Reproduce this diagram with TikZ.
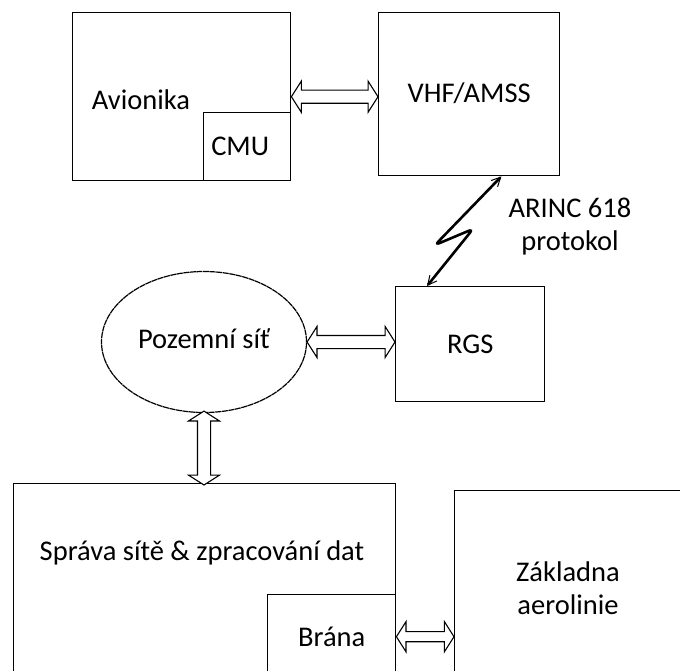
\documentclass[tikz,border=0pt]{standalone}
\usepackage{fontspec}
\setmainfont{Carlito}
\usetikzlibrary{calc, positioning, arrows.meta, shapes.geometric, shapes.arrows}

\begin{document}
\begin{tikzpicture}[
		x=1pt, y=-1pt,
		box/.style={rectangle, draw=black, line width=1.4pt, anchor=north west, inner sep=0pt},
		txt/.style={font=\fontsize{28.5}{33}\selectfont, align=center, inner sep=0pt},
		dblarrow/.style={double arrow, draw=black, fill=white, line width=1.1pt, inner sep=6pt, minimum width=13pt, double arrow head extend=9pt, double arrow tip angle=115},
		bolt/.style={line width=2.6pt, rounded corners=5pt, {Straight Barb[length=9pt, width=9pt, line width=1pt]}-{Straight Barb[length=9pt, width=9pt, line width=1pt]}}
		]
		
		\useasboundingbox (0,0) rectangle (680,670);
		\clip (0,0) rectangle (680,670);
		
		% --- LETADLO ---
		\node[box, minimum width=218pt, minimum height=168pt] (avio) at (72,12) {};
		\node[txt] (aviotext) at (141,100) {Avionika};
		\node[box, minimum width=87pt, minimum height=68pt, txt, anchor=north west] (cmu) at (203,112) {\hspace*{-14pt}CMU};
		\node[box, minimum width=181pt, minimum height=163pt, txt, anchor=north west] (vhf) at (378,12) {\raisebox{3pt}{VHF/AMSS}};
		
		% --- POZEMNI CAST ---
		\node[box, minimum width=149pt, minimum height=115pt, txt, anchor=north west] (rgs) at (395,286) {RGS};
		\node[ellipse, draw=black, line width=1.2pt, dashed, dash pattern=on 6pt off 0.6pt, minimum width=205pt, minimum height=141pt, txt] (sit) at (204,342) {\raisebox{7pt}{Pozemní síť}};
		\node[txt] (arinc) at (570,227) {ARINC 618\\protokol};
		
		% --- SPRAVA A AEROLINIE ---
		\node[box, minimum width=382pt, minimum height=230pt] (sprava) at (13,483) {};
		\node[txt] (spravatext) at (202,553) {Správa sítě \& zpracování dat};
		\node[box, minimum width=128pt, minimum height=84pt, txt, anchor=north west] (brana) at (267,594) {Brána};
		\node[box, minimum width=260pt, minimum height=230pt] (zakl) at (454,490) {};
		\node[txt] (zakltext) at (568,588) {Základna\\aerolinie};
		
		% --- SPOJENI ---
		\path let \p1=($(vhf.west |- avio.east)-(avio.east)$), \n1={veclen(\x1,\y1)} in
			node[dblarrow, minimum height=\n1] (a1) at ($(avio.east)!0.5!(vhf.west |- avio.east)$) {};
		\path let \p1=($(rgs.west |- sit.east)-(sit.east)$), \n1={veclen(\x1,\y1)} in
			node[dblarrow, minimum height=\n1] (a2) at ($(sit.east)!0.5!(rgs.west |- sit.east)$) {};
		\path let \p1=($(sprava.north -| sit.south)-(sit.south)$), \n1={veclen(\x1,\y1)+4} in
			node[dblarrow, minimum height=\n1, rotate=90] (a3) at ($(sit.south)!0.5!(sprava.north -| sit.south)$) {};
		\path let \p1=($(zakl.west |- brana.east)-(brana.east)$), \n1={veclen(\x1,\y1)} in
			node[dblarrow, minimum height=\n1, minimum width=9pt, inner sep=4.5pt, double arrow head extend=10pt] (a4) at ($(brana.east)!0.5!(zakl.west |- brana.east)$) {};
		
		% radiove spojeni
		\coordinate (boltS) at ([xshift=32pt]rgs.north west);
		\coordinate (boltE) at ([xshift=-59pt]vhf.south east);
		\draw[bolt] (boltS) -- ($(boltS)+(46,-57)$) -- ($(boltS)+(8,-41)$) -- (boltE);
		
	\end{tikzpicture}
\end{document}
